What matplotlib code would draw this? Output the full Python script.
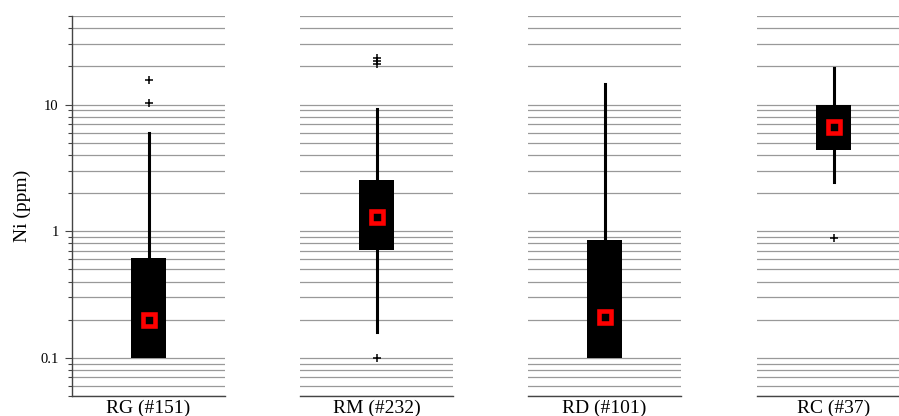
import numpy as np
import matplotlib
matplotlib.use("Agg")
import matplotlib.pyplot as plt
import matplotlib.ticker as mticker

plt.rcParams["font.family"] = ["Liberation Serif", "DejaVu Serif"]

# data (Ni, ppm)
groups = ["RG", "RM", "RD", "RC"]
counts = [151, 232, 101, 37]
q1 = [0.1, 0.71, 0.1, 4.4]
med = [0.2, 1.3, 0.21, 6.7]
q3 = [0.61, 2.55, 0.85, 10.0]
whis_lo = [0.1, 0.16, 0.1, 2.45]
whis_hi = [6.0, 9.3, 14.5, 19.5]
fliers = [[10.2, 15.6], [0.1, 20.9, 22.1, 23.2], [], [0.88]]

W, H = 899, 416
fig = plt.figure(figsize=(W / 100, H / 100), dpi=100)

left_px = [72, 300, 528, 757]
panel_w = 153
top_px, bot_px = 16, 396

for i, g in enumerate(groups):
    ax = fig.add_axes([left_px[i] / W, 1 - bot_px / H,
                       panel_w / W, (bot_px - top_px) / H])
    ax.set_yscale("log")
    ax.set_ylim(0.05, 50)
    ax.set_xlim(0.5, 1.5)
    ax.set_axisbelow(True)

    stats = [{
        "med": med[i], "q1": q1[i], "q3": q3[i],
        "whislo": whis_lo[i], "whishi": whis_hi[i],
        "fliers": fliers[i],
    }]
    ax.bxp(stats, positions=[1], widths=35 / panel_w, patch_artist=True,
           showcaps=False,
           boxprops={"facecolor": "black", "edgecolor": "black", "linewidth": 0},
           whiskerprops={"color": "black", "linewidth": 2.2},
           medianprops={"linewidth": 0},
           flierprops={"marker": "+", "markersize": 6, "markeredgecolor": "black",
                       "markeredgewidth": 1.1})
    ax.plot([1], [med[i]], marker="s", markersize=8.6, markerfacecolor="black",
            markeredgecolor="#ff0000", markeredgewidth=3.3, linestyle="none",
            zorder=5)

    ax.yaxis.set_major_locator(mticker.LogLocator(base=10, numticks=10))
    ax.yaxis.set_minor_locator(mticker.LogLocator(base=10, subs=np.arange(2, 10),
                                                  numticks=20))
    ax.yaxis.set_minor_formatter(mticker.NullFormatter())
    ax.yaxis.set_major_formatter(mticker.FuncFormatter(lambda v, p: f"{v:g}"))
    ax.grid(axis="y", which="both", color="#999999", linewidth=0.9)

    ax.set_xticks([])
    ax.set_xlabel(f"{g} (#{counts[i]})", fontsize=14, labelpad=2.5)

    for side in ("top", "right"):
        ax.spines[side].set_visible(False)
    ax.spines["bottom"].set_color("#444444")
    ax.spines["bottom"].set_linewidth(1.0)

    if i == 0:
        ax.spines["left"].set_color("#444444")
        ax.spines["left"].set_linewidth(1.0)
        ax.tick_params(axis="y", which="major", length=5, width=0.8,
                       color="#444444", pad=4.5, labelsize=10.5)
        ax.tick_params(axis="y", which="minor", length=3, width=0.8,
                       color="#444444")
        ax.set_ylabel("Ni (ppm)", fontsize=14, labelpad=7)
    else:
        ax.spines["left"].set_visible(False)
        ax.tick_params(axis="y", which="both", left=False, labelleft=False)

fig.savefig("out.png", dpi=100)
